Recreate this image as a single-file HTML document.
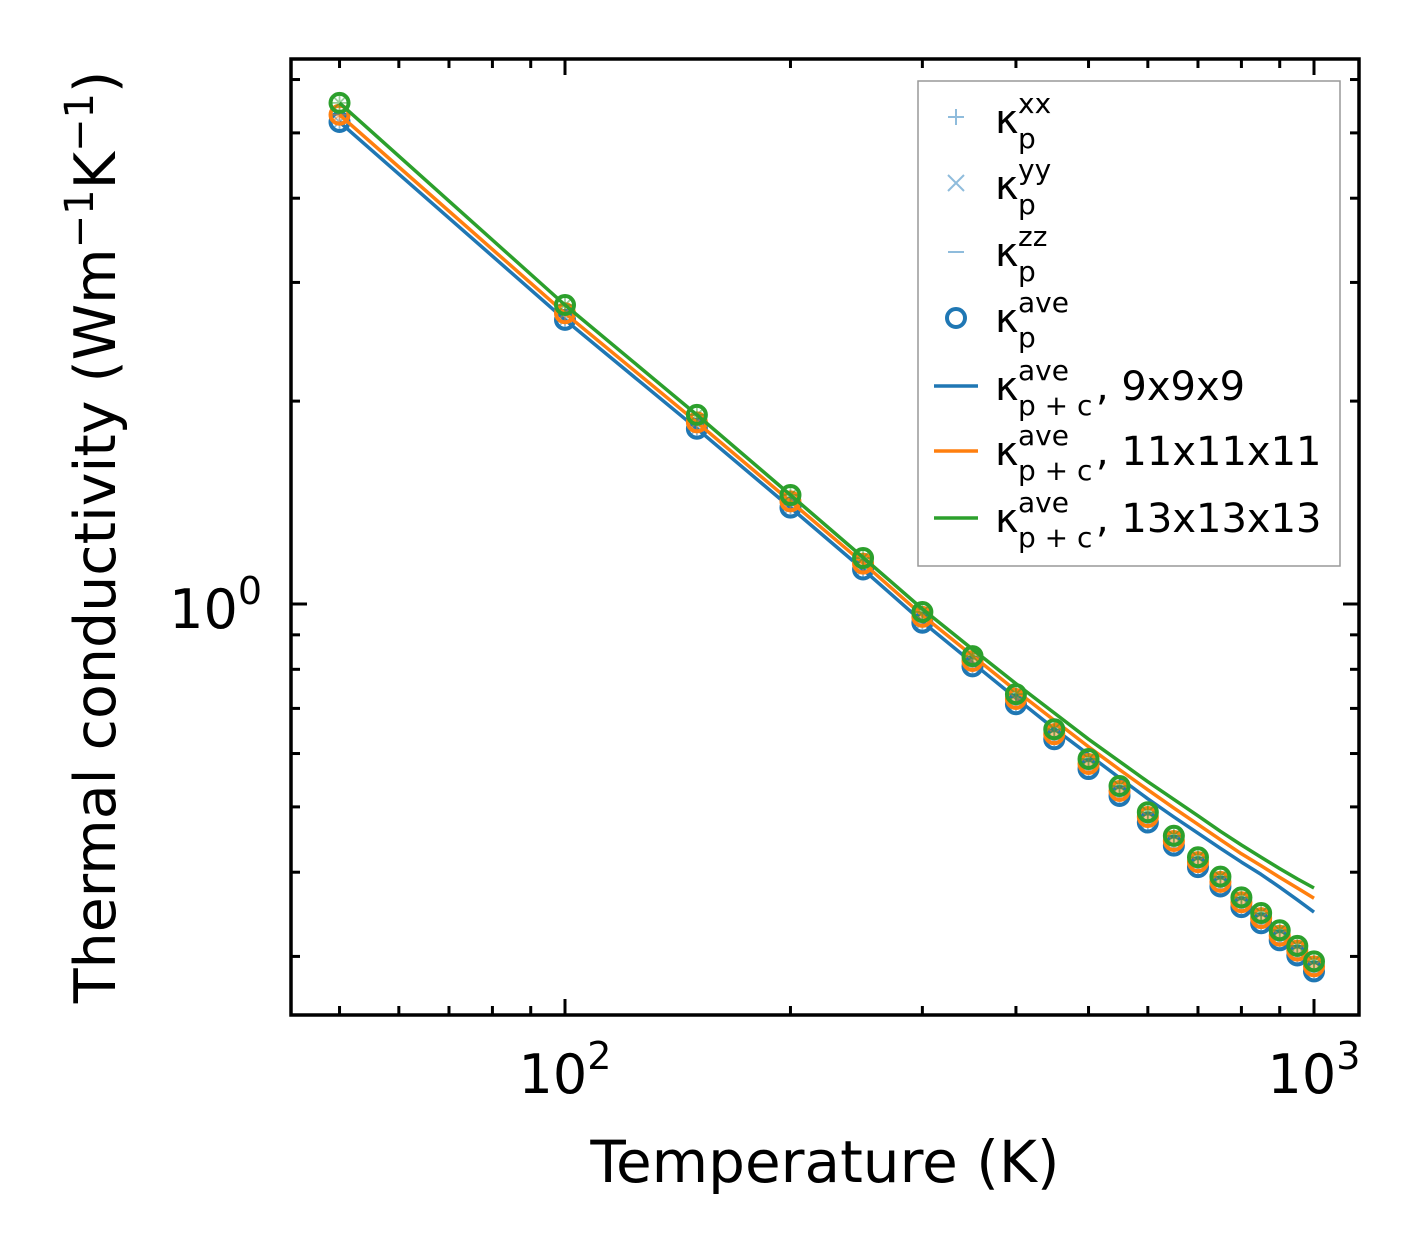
<!DOCTYPE html>
<html><head><meta charset="utf-8"><style>
html,body{margin:0;padding:0;background:#fff;}
svg{display:block;font-family:"DejaVu Sans","Liberation Sans",sans-serif;}
</style></head><body>
<svg id="chart" width="1421" height="1254" viewBox="0 0 1421 1254" xmlns="http://www.w3.org/2000/svg">
<rect x="0" y="0" width="1421" height="1254" fill="#fff"/>
<g id="marks"></g>
<g id="axes"></g>
<g id="legend">
<rect x="918" y="81" width="422" height="485" fill="#fff" stroke="#999" stroke-width="1.5"/>
</g>
<text x="825" y="1182" font-size="58" text-anchor="middle">Temperature (K)</text>
<text transform="translate(115,537) rotate(-90)" font-size="57" text-anchor="middle">Thermal conductivity (Wm<tspan dy="-22" font-size="40">−1</tspan><tspan dy="22">K</tspan><tspan dy="-22" font-size="40">−1</tspan><tspan dy="22">)</tspan></text>
</svg>
<script>
const temps = [50,100,150,200,250,300,350,400,450,500,550,600,650,700,750,800,850,900,950,1000];
const ptBlue = [5.19,2.64,1.82,1.390,1.125,0.938,0.808,0.710,0.630,0.569,0.519,0.474,0.438,0.407,0.381,0.355,0.336,0.317,0.301,0.285];
const ptOrange = [5.32,2.70,1.86,1.420,1.148,0.957,0.823,0.723,0.641,0.579,0.528,0.483,0.445,0.414,0.387,0.361,0.342,0.322,0.306,0.290];
const ptGreen = [5.54,2.777,1.908,1.451,1.170,0.973,0.837,0.735,0.652,0.589,0.537,0.491,0.453,0.421,0.394,0.367,0.348,0.328,0.311,0.295];
const lnBlue = [5.19,2.64,1.82,1.39,1.125,0.941,0.818,0.725,0.653,0.598,0.552,0.514,0.483,0.457,0.434,0.414,0.397,0.380,0.364,0.349];
const lnOrange = [5.32,2.70,1.86,1.42,1.15,0.962,0.838,0.744,0.672,0.614,0.568,0.530,0.498,0.471,0.447,0.426,0.409,0.393,0.379,0.366];
const lnGreen = [5.54,2.777,1.908,1.451,1.172,0.983,0.857,0.762,0.689,0.630,0.584,0.545,0.513,0.485,0.460,0.439,0.421,0.405,0.391,0.379];
const xMajor = [100,1000];
const xMajorExp = ["2","3"];
const xMinor = [50,60,70,80,90,200,300,400,500,600,700,800,900];
const yMajor = [1];
const yMajorExp = ["0"];
const yMinor = [0.3,0.4,0.5,0.6,0.7,0.8,0.9,2,3,4,5,6];

const L=291,R=1359,T=59,B=1015;
function X(v){return 565+749*Math.log10(v/100);}
function Y(v){return 604-674*Math.log10(v);}
const NS="http://www.w3.org/2000/svg";
function mk(tag,attrs,parent){const e=document.createElementNS(NS,tag);for(const k in attrs)e.setAttribute(k,attrs[k]);parent.appendChild(e);return e;}
const marks=document.getElementById('marks');
const axes=document.getElementById('axes');
const series=[
 {pts:ptBlue,ln:lnBlue,c:'#1f77b4',n:'9x9x9'},
 {pts:ptOrange,ln:lnOrange,c:'#ff7f0e',n:'11x11x11'},
 {pts:ptGreen,ln:lnGreen,c:'#2ca02c',n:'13x13x13'}];
series.forEach(s=>{
  const g=mk('g',{},marks);
  
  
  s.pts.forEach((v,i)=>{
    const cx=X(temps[i]),cy=Y(v);
    const p=mk('path',{d:`M${cx-7},${cy}h14M${cx},${cy-7}v14M${cx-6},${cy-6}l12,12M${cx-6},${cy+6}l12,-12`,stroke:s.c,'stroke-width':1.8,'stroke-opacity':0.5,fill:'none'},g);
    
    
    const c=mk('circle',{cx:cx,cy:cy,r:9,fill:'none',stroke:s.c,'stroke-width':4},g);
    
    
  });
  const d=s.ln.map((v,i)=>(i?'L':'M')+X(temps[i]).toFixed(1)+','+Y(v).toFixed(1)).join('');
  const pl=mk('path',{d:d,stroke:s.c,'stroke-width':3.5,fill:'none','stroke-linejoin':'round'},g);
  
  
});
const fr=mk('rect',{x:L,y:T,width:R-L,height:B-T,fill:'none',stroke:'#000','stroke-width':3.5},axes);


function tick(x1,y1,x2,y2){const t=mk('line',{x1,y1,x2,y2,stroke:'#000','stroke-width':3},axes);}
xMajor.forEach((v,i)=>{const x=X(v);tick(x,B,x,B-16);tick(x,T,x,T+16);
  const t=mk('text',{x:x,y:1093,'font-size':54,'text-anchor':'middle'},axes);
  
  
  t.innerHTML='10<tspan dy="-24" font-size="38">'+xMajorExp[i]+'</tspan>';});
xMinor.forEach(v=>{const x=X(v);tick(x,B,x,B-9);tick(x,T,x,T+9);});
yMajor.forEach((v,i)=>{const y=Y(v);tick(L,y,L+16,y);tick(R,y,R-16,y);
  const t=mk('text',{x:262,y:y+24,'font-size':54,'text-anchor':'end'},axes);
  
  
  t.innerHTML='10<tspan dy="-24" font-size="38">'+yMajorExp[i]+'</tspan>';});
yMinor.forEach(v=>{const y=Y(v);tick(L,y,L+9,y);tick(R,y,R-9,y);});
const lg=document.getElementById('legend');
const items=[
 {y:117,sup:'xx',sub:'p',h:'plus'},{y:183,sup:'yy',sub:'p',h:'x'},{y:250,sup:'zz',sub:'p',h:'minus'},
 {y:316,sup:'ave',sub:'p',h:'circle'},{y:384,sup:'ave',sub:'p + c',h:'#1f77b4',t:', 9x9x9'},
 {y:449,sup:'ave',sub:'p + c',h:'#ff7f0e',t:', 11x11x11'},{y:516,sup:'ave',sub:'p + c',h:'#2ca02c',t:', 13x13x13'}];
items.forEach(it=>{
  const g=mk('g',{},lg);
  
  
  const hx=956,y=it.y;
  if(it.h==='plus')mk('path',{d:`M${hx-8},${y}h16M${hx},${y-8}v16`,stroke:'#8fbcdc','stroke-width':2},g);
  else if(it.h==='x')mk('path',{d:`M${hx-8},${y-8}l16,16M${hx-8},${y+8}l16,-16`,stroke:'#8fbcdc','stroke-width':2},g);
  else if(it.h==='minus')mk('path',{d:`M${hx-8},${y+2}h16`,stroke:'#8fbcdc','stroke-width':2},g);
  else if(it.h==='circle')mk('circle',{cx:hx,cy:y+2,r:9,fill:'none',stroke:'#1f77b4','stroke-width':4},g);
  else mk('line',{x1:934,y1:y+2,x2:978,y2:y+2,stroke:it.h,'stroke-width':3.5},g);
  const t=mk('text',{x:995,y:y+16,'font-size':40},g);
  t.textContent='κ';
  const sb=mk('text',{x:1018,y:y+31,'font-size':28},g);
  sb.textContent=it.sub;
  const sp=mk('text',{x:1018,y:y-4,'font-size':28},g);
  sp.textContent=it.sup;
  if(it.t){const tt=mk('text',{x:1096,y:y+16,'font-size':40},g);tt.textContent=it.t;}
});
</script>
</body></html>
